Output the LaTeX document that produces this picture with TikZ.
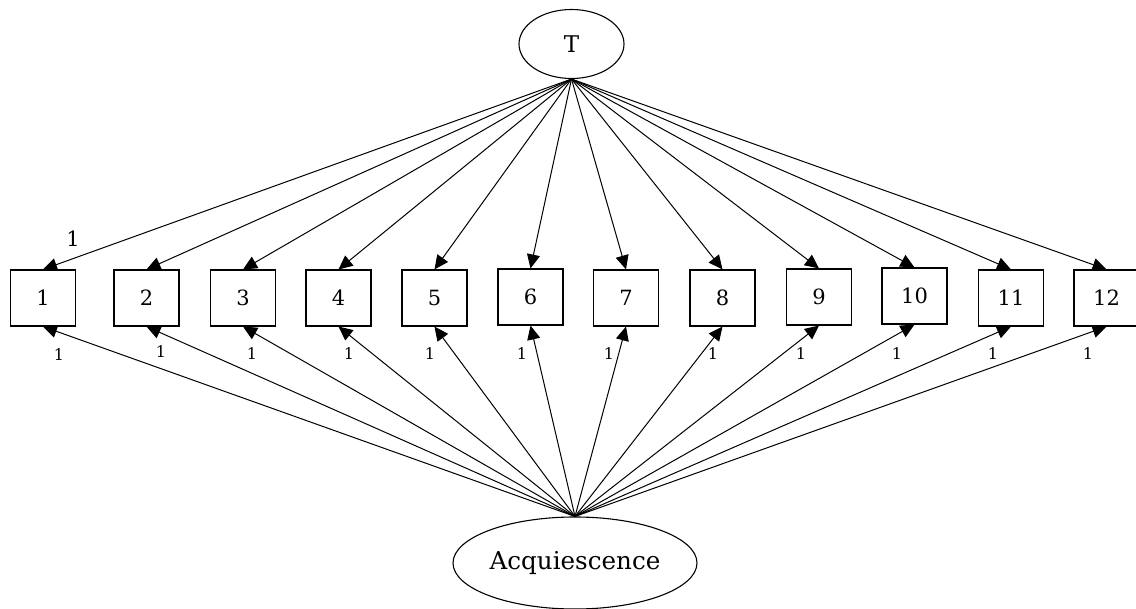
\documentclass[tikz,border=0pt]{standalone}
\usepackage{fontspec}
\setmainfont{DejaVu Serif}
\usepackage{tikz}
\usetikzlibrary{arrows.meta}
\usetikzlibrary{shapes}
\tikzset{item/.style={draw, line width=0.55pt, minimum width=32.5pt, minimum height=28pt, inner sep=0pt, font=\fontsize{10.5}{12}\selectfont},
 factor/.style={draw, ellipse, line width=0.55pt, inner sep=0pt},
 load/.style={-{Triangle[length=7pt,width=6.5pt]}, line width=0.5pt},
 one/.style={font=\fontsize{8}{10}\selectfont},
 }

\begin{document}
\begin{tikzpicture}[x=0.5pt, y=-0.5pt]
        \useasboundingbox (0,0) rectangle (1136,609);
        % latent factors
        \node[factor, minimum width=52.5pt, minimum height=34.5pt, font=\fontsize{11.5}{14}\selectfont] (t) at (571.5, 44) {T};
        \node[factor, minimum width=122pt, minimum height=46pt, font=\fontsize{12.3}{14}\selectfont] (acq) at (575, 563) {Acquiescence};
        % items
        \node[item] (i1) at (43, 298) {1};
        \node[item] (i2) at (146.5, 298) {2};
        \node[item] (i3) at (243, 298) {3};
        \node[item] (i4) at (338.5, 298) {4};
        \node[item] (i5) at (434.5, 298) {5};
        \node[item] (i6) at (530.5, 297) {6};
        \node[item] (i7) at (626, 298) {7};
        \node[item] (i8) at (722.5, 298) {8};
        \node[item] (i9) at (819, 297) {9};
        \node[item] (i10) at (914.5, 296) {10};
        \node[item] (i11) at (1011, 298) {11};
        \node[item] (i12) at (1106.5, 298) {12};
        % loadings on T
        \draw[load] (t.south) -- (i1.north);
        \draw[load] (t.south) -- (i2.north);
        \draw[load] (t.south) -- (i3.north);
        \draw[load] (t.south) -- (i4.north);
        \draw[load] (t.south) -- (i5.north);
        \draw[load] (t.south) -- (i6.north);
        \draw[load] (t.south) -- (i7.north);
        \draw[load] (t.south) -- (i8.north);
        \draw[load] (t.south) -- (i9.north);
        \draw[load] (t.south) -- (i10.north);
        \draw[load] (t.south) -- (i11.north);
        \draw[load] (t.south) -- (i12.north);
        % loadings on acquiescence
        \draw[load] (acq.north) -- (i1.south);
        \draw[load] (acq.north) -- (i2.south);
        \draw[load] (acq.north) -- (i3.south);
        \draw[load] (acq.north) -- (i4.south);
        \draw[load] (acq.north) -- (i5.south);
        \draw[load] (acq.north) -- (i6.south);
        \draw[load] (acq.north) -- (i7.south);
        \draw[load] (acq.north) -- (i8.south);
        \draw[load] (acq.north) -- (i9.south);
        \draw[load] (acq.north) -- (i10.south);
        \draw[load] (acq.north) -- (i11.south);
        \draw[load] (acq.north) -- (i12.south);
        % fixed loadings
        \node[font=\fontsize{10.5}{12}\selectfont] (lt) at (73, 239) {1};
        \node[one] (l1) at (59, 355) {1};
        \node[one] (l2) at (161, 352) {1};
        \node[one] (l3) at (252, 354) {1};
        \node[one] (l4) at (349, 354) {1};
        \node[one] (l5) at (430, 354) {1};
        \node[one] (l6) at (522, 354) {1};
        \node[one] (l7) at (609, 354) {1};
        \node[one] (l8) at (713, 354) {1};
        \node[one] (l9) at (801, 354) {1};
        \node[one] (l10) at (897, 354) {1};
        \node[one] (l11) at (993, 354) {1};
        \node[one] (l12) at (1088, 354) {1};
    \end{tikzpicture}
\end{document}
